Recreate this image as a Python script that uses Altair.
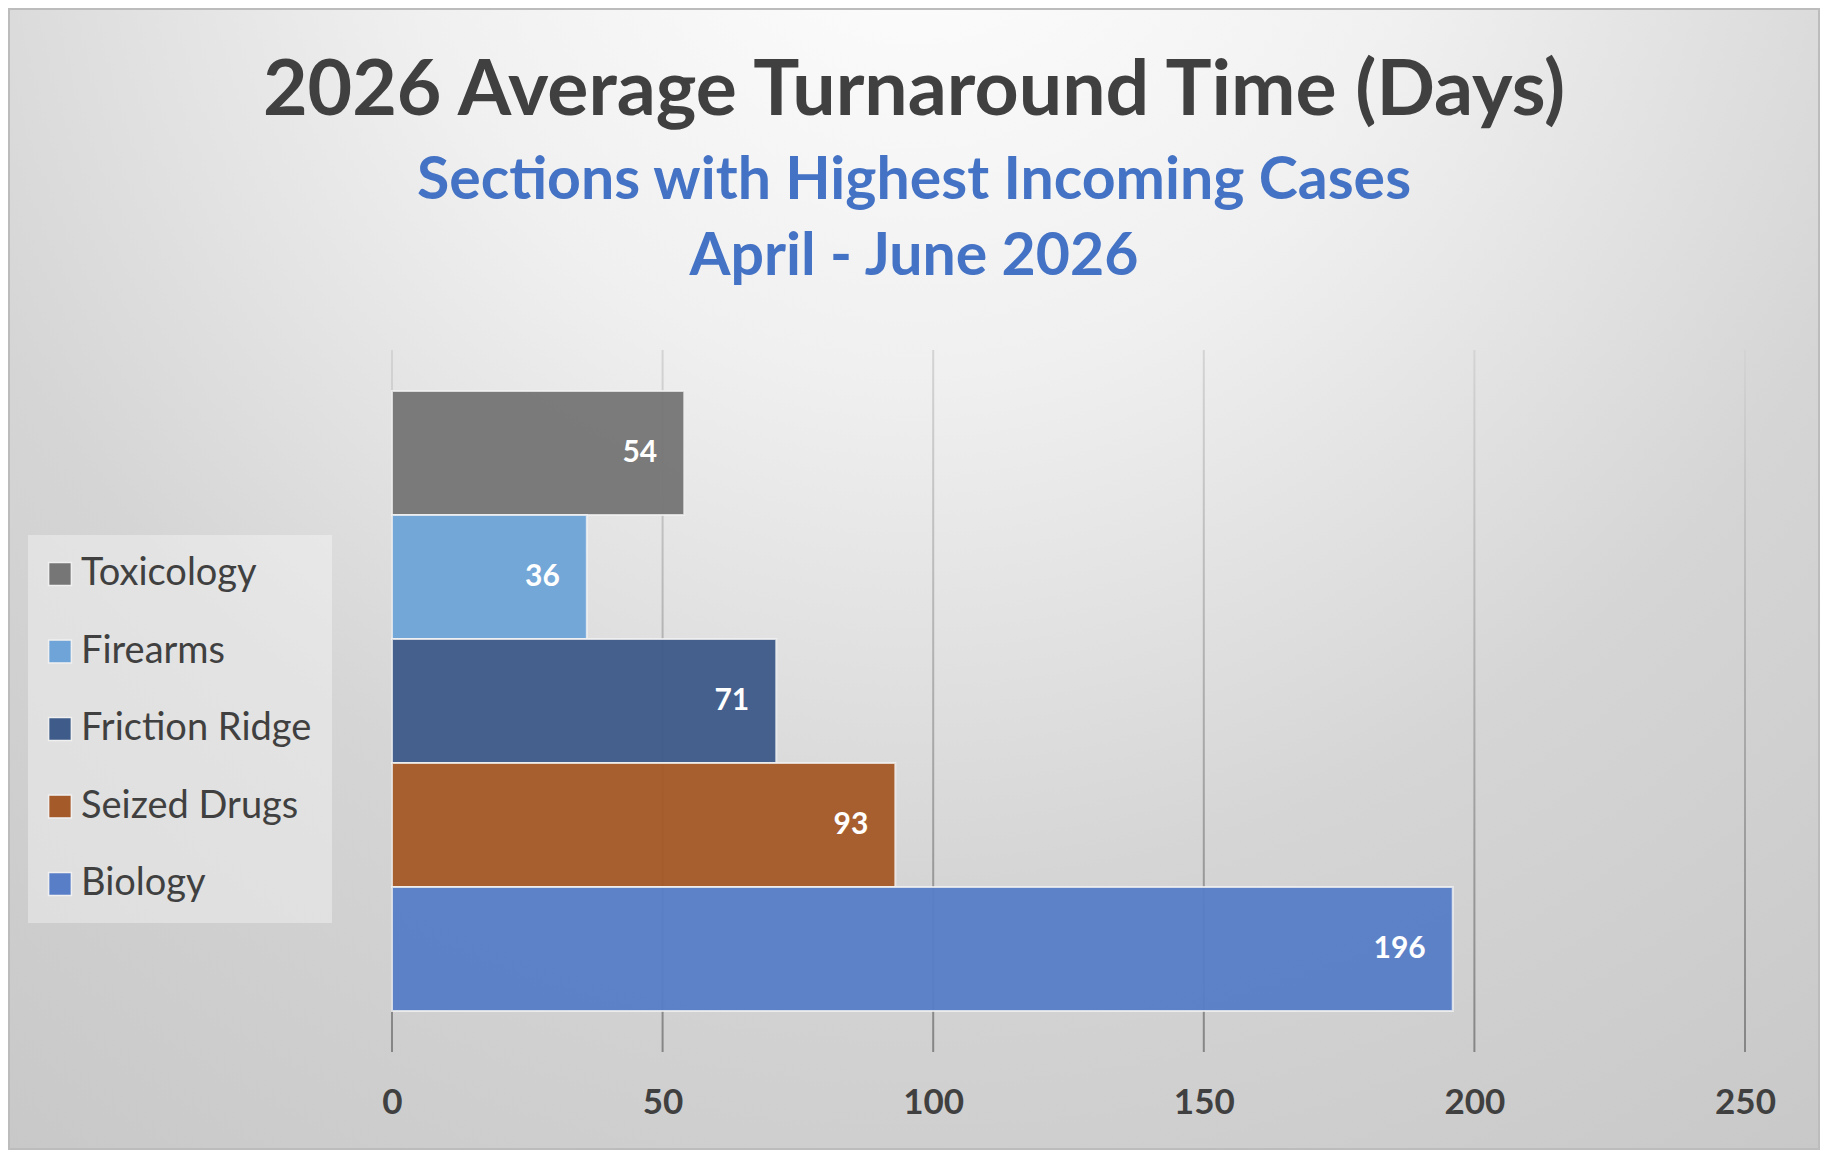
import altair as alt
import pandas as pd

# ---- data ----
sections = ["Toxicology", "Firearms", "Friction Ridge", "Seized Drugs", "Biology"]
days = [54, 36, 71, 93, 196]
colors = ["#767676", "#6ea4d7", "#3e5b89", "#a55a29", "#587ec7"]
x_ticks = [0, 50, 100, 150, 200, 250]

title_text = "2026 Average Turnaround Time (Days)"
subtitle_lines = ["Sections with Highest Incoming Cases", "April - June 2026"]

df = pd.DataFrame({"section": sections, "days": days})
grid_df = pd.DataFrame({"v": x_ticks})

W, H = 1353, 702
PAD = {"left": 384, "top": 342, "right": 75, "bottom": 98}

x_axis = alt.Axis(values=x_ticks, title=None, domain=False, ticks=False, tickSize=0,
                  grid=False, labelFont="Lato", labelFontSize=35, labelFontWeight="bold",
                  labelColor="#404040", labelPadding=50, labelBaseline="middle",
                  labelFlush=False, labelOverlap=False, zindex=2)
x_scale = alt.Scale(domain=[0, 250], nice=False, zero=True)
y_enc = alt.Y("section:N", sort=sections, axis=None,
              scale=alt.Scale(paddingInner=0, paddingOuter=0.33))

bg_gradient = alt.Gradient(
    gradient="radial", x1=0.5, y1=0.1, r1=0, x2=0.5, y2=0.1, r2=0.95,
    stops=[alt.GradientStop(offset=0, color="#ffffff"),
           alt.GradientStop(offset=0.3, color="#f0f0f0"),
           alt.GradientStop(offset=0.6, color="#d5d5d5"),
           alt.GradientStop(offset=1, color="#c5c5c5")])

bg = alt.Chart(pd.DataFrame({"a": [0]})).mark_rect(
    fill=bg_gradient, stroke="#bcbcbc", strokeWidth=4
).encode(
    x=alt.value(-PAD["left"]), x2=alt.value(W + PAD["right"]),
    y=alt.value(-PAD["top"]), y2=alt.value(H + PAD["bottom"])
)

grid_gradient = alt.Gradient(
    gradient="linear", x1=0, y1=0, x2=0, y2=1,
    stops=[alt.GradientStop(offset=0, color="#d4d4d4"),
           alt.GradientStop(offset=1, color="#858585")])

grid = alt.Chart(grid_df).mark_tick(
    orient="vertical", thickness=2, size=H, fill=grid_gradient, opacity=1
).encode(x=alt.X("v:Q", scale=x_scale, axis=x_axis))

bars = alt.Chart(df).mark_bar(
    fillOpacity=0.96, stroke="#f2f2f2", strokeWidth=2, strokeOpacity=0.8
).encode(
    y=y_enc,
    x=alt.X("days:Q", scale=x_scale, axis=x_axis),
    color=alt.Color("section:N", scale=alt.Scale(domain=sections, range=colors),
                    legend=alt.Legend(orient="none", legendX=-364, legendY=185, title=None,
                                      fillColor="rgba(255,255,255,0.35)", padding=20,
                                      labelFont="Lato", labelFontSize=38, labelColor="#404040",
                                      labelLimit=400, symbolType="square", symbolSize=520,
                                      symbolStrokeColor="#f0f0f0", symbolStrokeWidth=1.5,
                                      symbolOffset=-7, rowPadding=39.5, labelOffset=2)),
)

labels = alt.Chart(df).mark_text(
    align="right", baseline="middle", dx=-27, font="Lato", fontWeight="bold",
    fontSize=30, color="white"
).encode(y=y_enc, x=alt.X("days:Q", scale=x_scale, axis=x_axis), text="days:Q")

chart = alt.layer(bg, grid, bars, labels).properties(
    width=W, height=H, padding=PAD, autosize="none",
    title=alt.TitleParams(
        text=title_text, subtitle=subtitle_lines, anchor="middle", frame="bounds",
        font="Lato", fontSize=77, fontWeight="bold", color="#404040",
        subtitleFont="Lato", subtitleFontSize=59, subtitleFontWeight="bold",
        subtitleColor="#4472c4", subtitleLineHeight=76, subtitlePadding=21, offset=-281.5)
).configure_view(stroke=None).configure(background="white")

chart.save("out.html", embed_options={"renderer": "svg", "actions": False})
